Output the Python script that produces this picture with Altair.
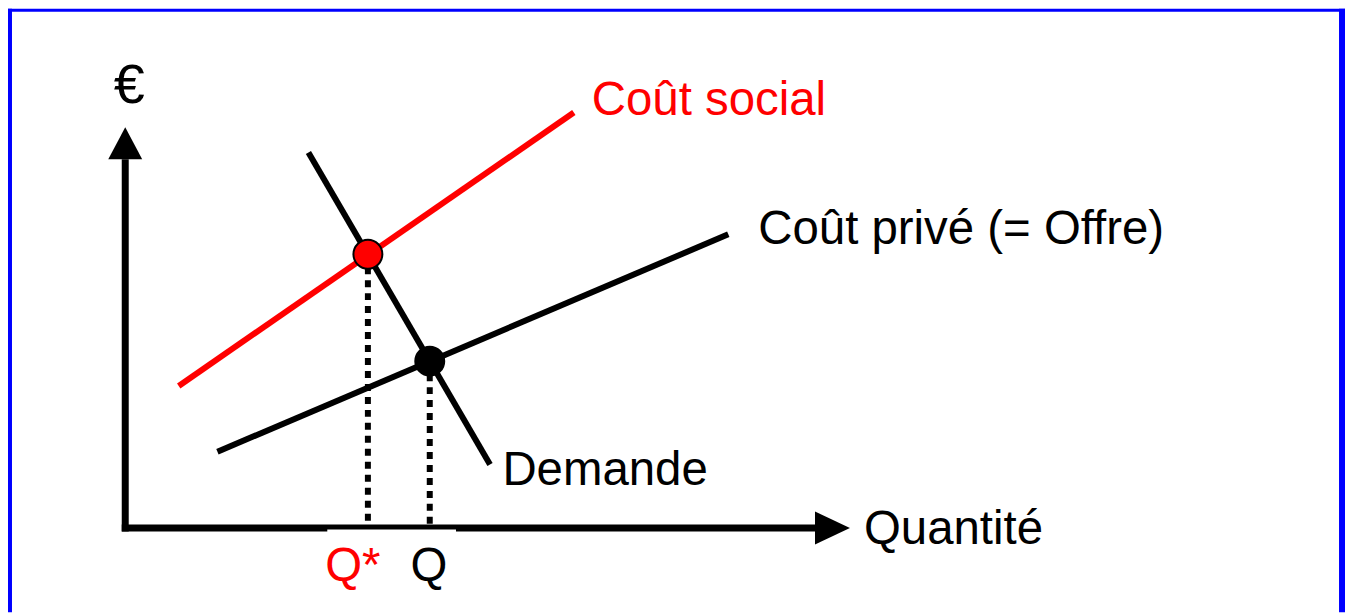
import altair as alt
import pandas as pd

# ---- diagram values (units: quantity on x, price on y; origin at axis corner) ----
curve_names = ["Coût social", "Coût privé (= Offre)", "Demande"]
social_q = [1.34, 11.24]
social_p = [3.56, 10.41]
private_q = [2.31, 15.11]
private_p = [1.91, 7.36]
demand_q = [4.59, 9.14]
demand_p = [9.41, 1.59]
curve_colors = ["#ff0000", "#000000", "#000000"]

eq_names = ["Q*", "Q"]
eq_q = [6.08, 7.63]
eq_p = [6.86, 4.18]
eq_colors = ["#ff0000", "#000000"]

axis_q_end = 17.29
axis_p_end = 9.24
arrow_q = 17.72
arrow_p = 9.64

left_labels = ["Coût social", "Coût privé (= Offre)", "Demande", "Quantité", "Q*"]
left_q = [11.69, 15.86, 9.45, 18.51, 5.01]
left_p = [10.36, 7.11, 1.09, -0.41, -1.34]
left_colors = ["#ff0000", "#000000", "#000000", "#000000", "#ff0000"]

center_labels = ["Q"]
center_q = [7.61]
center_p = [-1.34]
center_colors = ["#000000"]

euro_label = ["€"]
euro_q = [0.10]
euro_p = [10.64]

W, H = 1341, 605
xs = alt.Scale(domain=[-2.9375, 30.5875], nice=False, zero=False)
ys = alt.Scale(domain=[(528.5 - 613) / 40, 13.0125], nice=False, zero=False)

def X(f):
    return alt.X(f + ":Q", scale=xs, axis=None)

def Y(f):
    return alt.Y(f + ":Q", scale=ys, axis=None)

rows = []
for name, qs, ps, col in zip(curve_names, [social_q, private_q, demand_q],
                             [social_p, private_p, demand_p], curve_colors):
    for i, (q, p) in enumerate(zip(qs, ps)):
        rows.append({"series": name, "q": q, "p": p, "o": i, "color": col})
curves = pd.DataFrame(rows)

eq = pd.DataFrame({"name": eq_names, "q": eq_q, "p": eq_p, "zero": [0, 0], "color": eq_colors})

axes_df = pd.DataFrame({
    "axis": ["x", "x", "y", "y"],
    "q": [-0.0875, axis_q_end, 0.0, 0.0],
    "p": [0.0, 0.0, -0.0875, axis_p_end],
    "o": [0, 1, 0, 1],
})

one = pd.DataFrame({"k": [0]})

# border (blue frame)
border_left = alt.Chart(one).mark_rect(color="#0000ff").encode(
    x=alt.value(0), x2=alt.value(4), y=alt.value(0), y2=alt.value(H))
border_top = alt.Chart(one).mark_rect(color="#0000ff").encode(
    x=alt.value(0), x2=alt.value(1340), y=alt.value(0), y2=alt.value(3))
border_right = alt.Chart(one).mark_rect(color="#0000ff").encode(
    x=alt.value(1334), x2=alt.value(1340), y=alt.value(0), y2=alt.value(H))

drops = alt.Chart(eq).mark_rule(color="black", strokeWidth=6, strokeDash=[7, 6], strokeCap="butt").encode(
    x=X("q"), y=Y("p"), y2="zero:Q")

lines = alt.Chart(curves).mark_line(strokeWidth=6, strokeCap="butt").encode(
    x=X("q"), y=Y("p"), order="o:Q", detail="series:N",
    color=alt.Color("color:N", scale=None))

axes = alt.Chart(axes_df).mark_line(strokeWidth=7, strokeCap="butt", color="black").encode(
    x=X("q"), y=Y("p"), order="o:Q", detail="axis:N")

arrow_up = alt.Chart(pd.DataFrame({"q": [0.0], "p": [arrow_p]})).mark_point(
    shape="M-1,0.94L1,0.94L0,-0.94Z", size=1156, filled=True, color="black", opacity=1, strokeWidth=0
).encode(x=X("q"), y=Y("p"))

arrow_right = alt.Chart(pd.DataFrame({"q": [arrow_q], "p": [0.0]})).mark_point(
    shape="M-1,-0.94L1,0L-1,0.94Z", size=1225, filled=True, color="black", opacity=1, strokeWidth=0
).encode(x=X("q"), y=Y("p"))

strip = alt.Chart(one).mark_rect(color="white").encode(
    x=alt.value(328 - 8), x2=alt.value(457 - 8), y=alt.value(530 - 8), y2=alt.value(533 - 8))

points = alt.Chart(eq).mark_point(shape="circle", filled=True, size=841, stroke="black",
                                   strokeWidth=2, opacity=1).encode(
    x=X("q"), y=Y("p"), fill=alt.Fill("color:N", scale=None))

ldf = pd.DataFrame({"t": left_labels, "q": left_q, "p": left_p, "color": left_colors})
cdf = pd.DataFrame({"t": center_labels, "q": center_q, "p": center_p, "color": center_colors})
edf = pd.DataFrame({"t": euro_label, "q": euro_q, "p": euro_p})

text_left = alt.Chart(ldf).mark_text(align="left", baseline="alphabetic", font="Liberation Sans",
                                     fontSize=47.5).encode(
    x=X("q"), y=Y("p"), text="t:N", color=alt.Color("color:N", scale=None))
text_center = alt.Chart(cdf).mark_text(align="center", baseline="alphabetic", font="Liberation Sans",
                                       fontSize=47.5).encode(
    x=X("q"), y=Y("p"), text="t:N", color=alt.Color("color:N", scale=None))
text_euro = alt.Chart(edf).mark_text(align="center", baseline="alphabetic", font="Liberation Sans",
                                     fontSize=56, color="black").encode(
    x=X("q"), y=Y("p"), text="t:N")

chart = alt.layer(
    border_left, border_top, border_right, drops, lines, axes, arrow_up, arrow_right,
    strip, points, text_left, text_center, text_euro
).properties(
    width=W, height=H, autosize=alt.AutoSizeParams(type="none"), padding=0, background="white"
).configure_view(stroke=None)

chart.save("out.html", embed_options={"renderer": "svg", "actions": False})
